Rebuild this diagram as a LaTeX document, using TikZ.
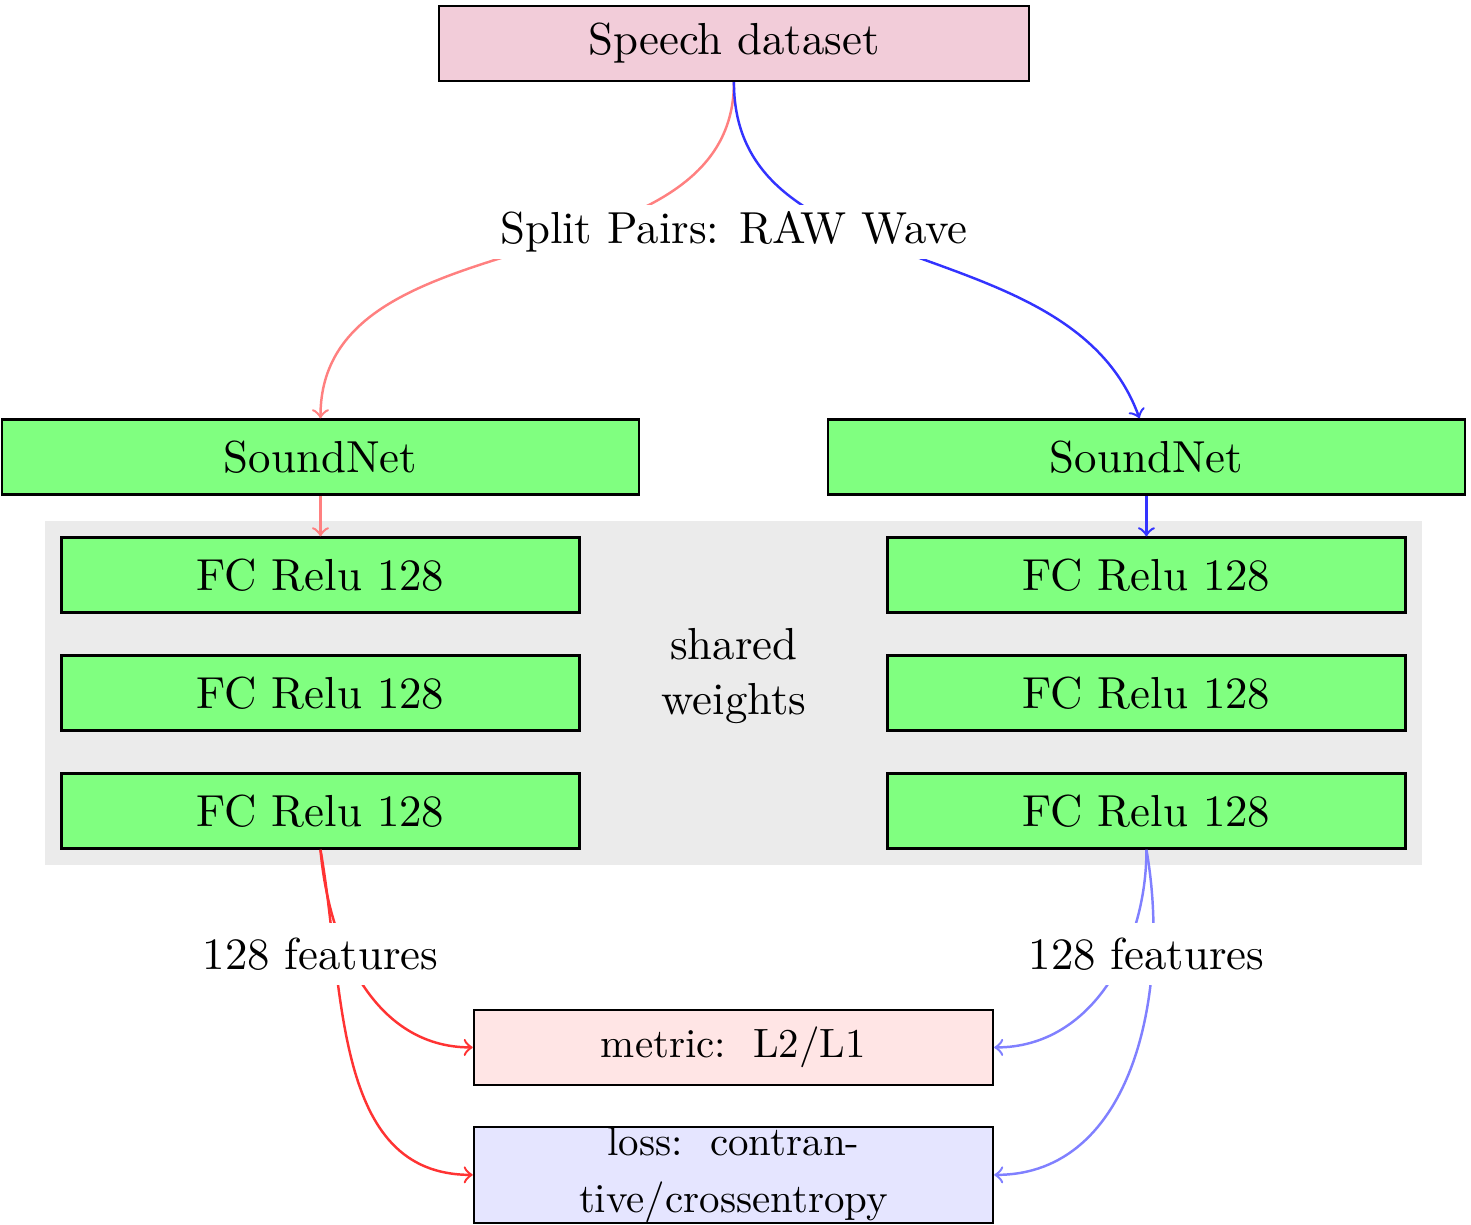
\documentclass[tikz,border=0pt,11pt]{standalone}
\usepackage{amsmath}
\usepackage{tikz}
\usetikzlibrary{arrows,positioning,fit,backgrounds}

\begin{document}
\begin{tikzpicture}
    [>=to,node distance=1.013cm,on grid,
     box/.style={draw,semithick,rectangle,minimum height=0.644cm,inner sep=0.5pt},
     net/.style={box,fill=green!50,minimum width=5.468cm},
     fc/.style={box,fill=green!50,minimum width=4.446cm},
     cost/.style={box,minimum width=4.455cm,font=\fontsize{10}{14}\selectfont},
     lbl/.style={fill=white},
     every edge/.style={draw,semithick}]

    \useasboundingbox (0,0) rectangle (12.627,-10.515);

    \node[box,fill=purple!20,minimum width=5.064cm] (data) at (6.300,-0.373) {Speech dataset};
    \node[net] (sn1) at (2.751,-3.923) {SoundNet};
    \node[net] (sn2) [right =7.090cm of sn1] {SoundNet};

    \node[fc] (l1) [below =of sn1] {FC Relu 128};
    \node[fc] (l2) [below =of l1] {FC Relu 128};
    \node[fc] (l3) [below =of l2] {FC Relu 128};
    \node[fc] (r1) [below =of sn2] {FC Relu 128};
    \node[fc] (r2) [below =of r1] {FC Relu 128};
    \node[fc] (r3) [below =of r2] {FC Relu 128};
    \node[align=center] (shared) at (6.300,-5.803) {shared\\weights};

    \begin{scope}[on background layer]
      \node[fill=black!8,inner sep=0.13cm,fit=(l1)(r3)] (bg) {};
    \end{scope}

    \node[cost,fill=red!10] (metric) at (6.296,-8.991) {metric:\ \ L2/L1};
    \node[cost,fill=blue!10,inner sep=0pt,text width=3cm,align=center] (loss) [below =1.094cm of metric] {loss:\ \ contrantive/crossentropy};

    \path
    (data.south) edge [->,red!50,out=-90,in=90] (sn1.north)
    (data.south) edge [->,blue!80,out=-90,in=110] ([xshift=-0.06cm]sn2.north)
    (sn1) edge [->,red!50] (l1)
    (sn2) edge [->,blue!80] (r1)
    (l3.south) edge [->,red!80,out=-85,in=180] (metric.west)
    (l3.south) edge [->,red!80,out=-80,in=180] (loss.west)
    (r3.south) edge [->,blue!50,out=-90,in=0] (metric.east)
    (r3.south) edge [->,blue!50,out=-80,in=0] (loss.east)
    ;

    \node[lbl,inner sep=1.7pt] (split) [below =1.618cm of data] {Split Pairs: RAW Wave};
    \node[lbl] (featl) [below =1.227cm of l3] {128 features};
    \node[lbl] (featr) [below =1.227cm of r3] {128 features};

  \end{tikzpicture}
\end{document}
